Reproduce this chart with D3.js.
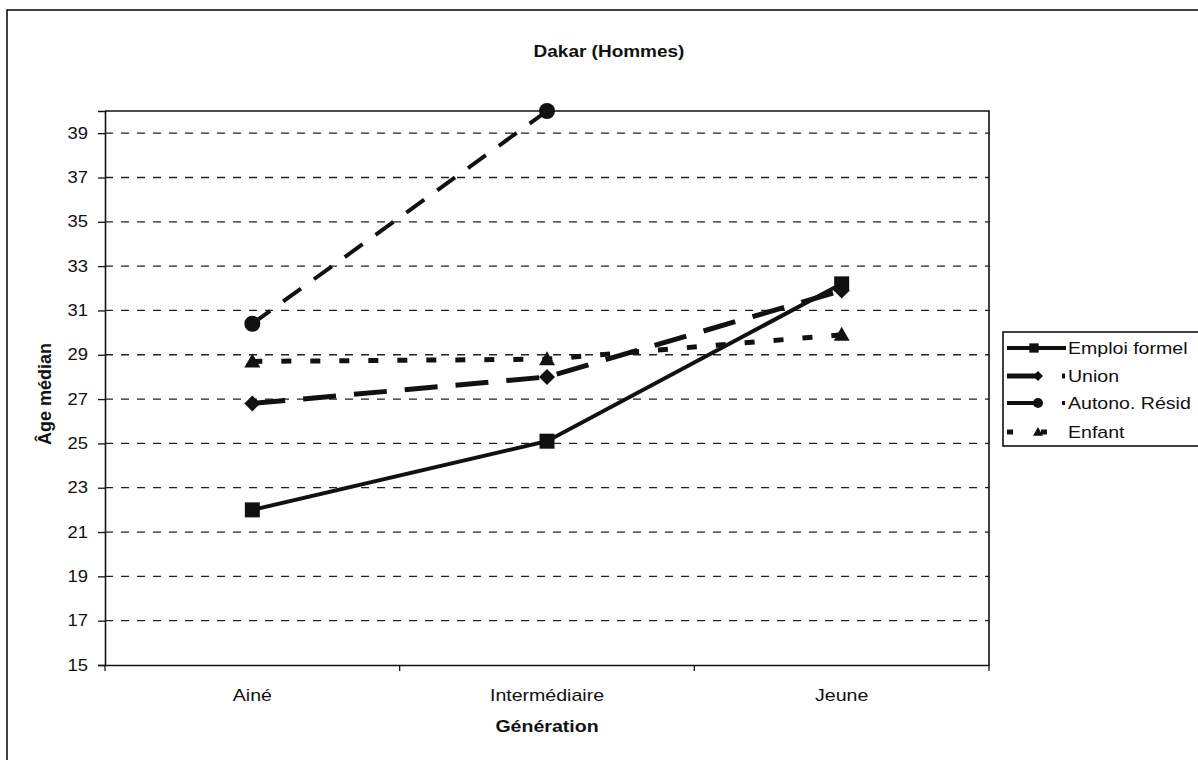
<!DOCTYPE html>
<html>
<head>
<meta charset="utf-8">
<script src="https://cdn.jsdelivr.net/npm/d3@7"></script>
<style>
  html, body { margin: 0; padding: 0; background: #fff; }
  svg { display: block; font-family: "Liberation Sans", Arial, sans-serif; }
</style>
</head>
<body>
<svg id="chart" width="1198" height="760"></svg>
<script>
// Median age at each transition, by generation (Dakar, men)
const generations = ["Ainé", "Intermédiaire", "Jeune"];
const emploiFormel = [22.0, 25.1, 32.2];
const unionAge = [26.8, 28.0, 31.9];
const autonoResid = [30.4, 40.0, null];
const enfant = [28.7, 28.8, 29.9];
const seriesNames = ["Emploi formel", "Union", "Autono. Résid", "Enfant"];
const yTickValues = [15, 17, 19, 21, 23, 25, 27, 29, 31, 33, 35, 37, 39];

const series = [
  { name: seriesNames[0], values: emploiFormel, marker: "square",   dash: null,     width: 4,   legendDash: null },
  { name: seriesNames[1], values: unionAge,     marker: "diamond",  dash: "33,18",  width: 5,   legendDash: "33,22,3,20" },
  { name: seriesNames[2], values: autonoResid,  marker: "circle",   dash: "22,16",  width: 4,   legendDash: "33,22,3,20" },
  { name: seriesNames[3], values: enfant,       marker: "triangle", dash: "10,19",  width: 5,   legendDash: "6,28,6,40" }
];

const svg = d3.select("#chart");
const plot = { left: 105, right: 989, top: 111, bottom: 665 };
const ink = "#111";

// Outer chart frame
svg.append("rect")
  .attr("x", 7).attr("y", 10).attr("width", 1230).attr("height", 800)
  .attr("fill", "none").attr("stroke", ink).attr("stroke-width", 1.6);

const x = d3.scaleBand().domain(generations).range([plot.left, plot.right]);
const y = d3.scaleLinear().domain([15, 40]).range([plot.bottom, plot.top]);
const cx = d => x(d) + x.bandwidth() / 2;

// Horizontal dashed gridlines
svg.append("g").selectAll("line")
  .data(yTickValues.filter(v => v > 15))
  .join("line")
  .attr("x1", plot.left).attr("x2", plot.right)
  .attr("y1", d => y(d)).attr("y2", d => y(d))
  .attr("stroke", "#222").attr("stroke-width", 1.3)
  .attr("stroke-dasharray", "8,8");

// Plot frame: top and right edges
svg.append("path")
  .attr("d", `M${plot.left},${plot.top}H${plot.right}V${plot.bottom}`)
  .attr("fill", "none").attr("stroke", ink).attr("stroke-width", 1.6);

// Y axis
const yAxis = svg.append("g")
  .attr("transform", `translate(${plot.left},0)`)
  .call(d3.axisLeft(y).tickValues(yTickValues).tickSize(7).tickPadding(10).tickFormat(d3.format("d")));
yAxis.select(".domain").attr("stroke", ink).attr("stroke-width", 1.6);
yAxis.selectAll(".tick line").attr("stroke", ink).attr("stroke-width", 1.3);
yAxis.selectAll(".tick text").attr("font-size", 16).attr("fill", ink)
  .attr("font-family", "Liberation Sans, Arial, sans-serif");

// X axis: category labels centred in bands, ticks on band boundaries
const xAxis = svg.append("g")
  .attr("transform", `translate(0,${plot.bottom})`)
  .call(d3.axisBottom(x).tickSize(0).tickPadding(24));
xAxis.select(".domain").attr("stroke", ink).attr("stroke-width", 1.6);
xAxis.selectAll(".tick text").attr("font-size", 17).attr("fill", ink)
  .attr("font-family", "Liberation Sans, Arial, sans-serif");
const boundaries = generations.map(g => x(g)).concat([x.range()[1]]);
xAxis.selectAll(".bound")
  .data(boundaries)
  .join("line")
  .attr("class", "bound")
  .attr("x1", d => d).attr("x2", d => d)
  .attr("y1", 0).attr("y2", 6)
  .attr("stroke", ink).attr("stroke-width", 1.3);

// Titles
svg.append("text").attr("class", "stretch")
  .attr("x", 609).attr("y", 57).attr("text-anchor", "middle")
  .attr("font-size", 16.5).attr("font-weight", "bold").attr("fill", ink)
  .text("Dakar (Hommes)");
svg.append("text").attr("class", "stretch")
  .attr("x", (plot.left + plot.right) / 2).attr("y", 732).attr("text-anchor", "middle")
  .attr("font-size", 17).attr("font-weight", "bold").attr("fill", ink)
  .text("Génération");
svg.append("text")
  .attr("transform", `translate(51,${(plot.top + plot.bottom) / 2 + 6}) rotate(-90)`)
  .attr("text-anchor", "middle")
  .attr("font-size", 18).attr("font-weight", "bold").attr("fill", ink)
  .text("Âge médian");

// Marker shapes
function markerPath(type, s) {
  switch (type) {
    case "square": return `M${-7.5*s},${-7.5*s}h${15*s}v${15*s}h${-15*s}Z`;
    case "diamond": return `M0,${-8*s}L${8*s},0L0,${8*s}L${-8*s},0Z`;
    case "circle": return d3.symbol(d3.symbolCircle, Math.PI * 8 * 8 * s * s)();
    case "triangle": return `M0,${-8*s}L${8*s},${6*s}L${-8*s},${6*s}Z`;
  }
}

// Series lines and markers
const line = d3.line()
  .defined(d => d.v != null)
  .x(d => cx(d.g))
  .y(d => y(d.v));

series.forEach(s => {
  const pts = generations.map((g, i) => ({ g, v: s.values[i] }));
  const gS = svg.append("g");
  gS.append("path")
    .datum(pts)
    .attr("d", line)
    .attr("fill", "none")
    .attr("stroke", ink)
    .attr("stroke-width", s.width)
    .attr("stroke-dasharray", s.dash)
    .attr("stroke-linecap", "butt");
  gS.selectAll("path.mk")
    .data(pts.filter(d => d.v != null))
    .join("path")
    .attr("class", "mk")
    .attr("transform", d => `translate(${cx(d.g)},${y(d.v)})`)
    .attr("d", markerPath(s.marker, 1))
    .attr("fill", ink);
});

// Legend
const legend = svg.append("g");
legend.append("rect")
  .attr("x", 1003).attr("y", 332).attr("width", 260).attr("height", 114)
  .attr("fill", "#fff").attr("stroke", ink).attr("stroke-width", 1.6);
const rowY = [348, 376, 403, 432];
series.forEach((s, i) => {
  const yy = rowY[i];
  legend.append("line")
    .attr("x1", 1007).attr("x2", 1066).attr("y1", yy).attr("y2", yy)
    .attr("stroke", ink).attr("stroke-width", s.width)
    .attr("stroke-dasharray", s.legendDash);
  legend.append("path")
    .attr("transform", `translate(${i === 0 ? 1034 : 1038},${yy})`)
    .attr("d", markerPath(s.marker, 0.62))
    .attr("fill", ink);
  legend.append("text").attr("class", "stretch")
    .attr("x", 1068).attr("y", yy + 6)
    .attr("font-size", 17).attr("fill", ink)
    .text(s.name);
});

// Widen horizontal text slightly to the chart's wide lettering
svg.selectAll(".tick text, text.stretch").each(function () {
  const len = this.getComputedTextLength();
  d3.select(this).attr("textLength", len * 1.15).attr("lengthAdjust", "spacingAndGlyphs");
});
</script>
</body>
</html>
